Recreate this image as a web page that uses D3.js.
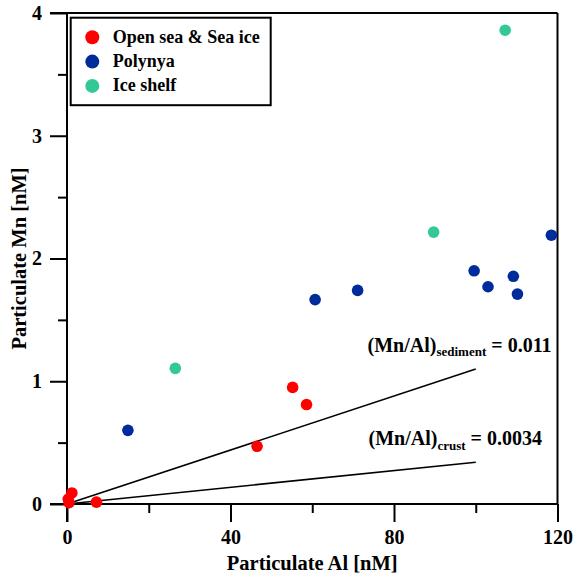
<!DOCTYPE html>
<html>
<head>
<meta charset="utf-8">
<script src="https://cdn.jsdelivr.net/npm/d3@7"></script>
<style>
  body { margin: 0; background: #fff; }
</style>
</head>
<body>
<div id="chart"></div>
<script>
// data
var groups = ["Open sea & Sea ice", "Polynya", "Ice shelf"]
var group_colors = ["#ff0000", "#002b9b", "#33c994"]

var openSeaAl = [0.3, 1.2, 0.5, 7.2, 46.5, 55.2, 58.6]
var openSeaMn = [0.04, 0.09, 0.01, 0.015, 0.47, 0.95, 0.81]

var polynyaAl = [14.9, 60.7, 71.1, 99.6, 103.0, 109.2, 110.2, 118.5]
var polynyaMn = [0.60, 1.665, 1.74, 1.90, 1.77, 1.855, 1.71, 2.19]

var iceShelfAl = [26.5, 89.7, 107.2]
var iceShelfMn = [1.105, 2.215, 3.86]

var ratioNames = ["sediment", "crust"]
var ratioValues = [0.011, 0.0034]
var ratioLabels = ["0.011", "0.0034"]
var ratioEndAl = 100

var xTicks = [0, 40, 80, 120]
var xMinor = [20, 60, 100]
var yTicks = [0, 1, 2, 3, 4]
var yMinor = [0.5, 1.5, 2.5, 3.5]

var serif = "Liberation Serif"

// dimensions and margins
var margin = { top: 13, right: 15, bottom: 75, left: 67 },
    width = 573 - margin.left - margin.right,
    height = 579 - margin.top - margin.bottom;

var svg = d3.select("#chart")
    .append("svg")
    .attr("width", 573)
    .attr("height", 579)
    .append("g")
    .attr("transform", "translate(" + margin.left + "," + margin.top + ")");

var x = d3.scaleLinear().domain([0, 120]).range([0, 490.5]);
var y = d3.scaleLinear().domain([0, 4]).range([491, 0]);

// frame
svg.append("line").attr("x1", -17).attr("x2", x(120)).attr("y1", y(4)).attr("y2", y(4))
    .attr("stroke", "black").attr("stroke-width", 2)
svg.append("line").attr("x1", x(120)).attr("x2", x(120)).attr("y1", y(4)).attr("y2", y(0))
    .attr("stroke", "black").attr("stroke-width", 2)

// axes
var xAxis = svg.append("g")
    .attr("transform", "translate(0," + y(0) + ")")
    .call(d3.axisBottom(x).tickValues(xTicks).tickFormat(d3.format("d")).tickSize(18).tickPadding(8).tickSizeOuter(0))
var xMin = svg.append("g")
    .attr("transform", "translate(0," + y(0) + ")")
    .call(d3.axisBottom(x).tickValues(xMinor).tickSize(9).tickFormat("").tickSizeOuter(0))

var yAxis = svg.append("g")
    .call(d3.axisLeft(y).tickValues(yTicks).tickFormat(d3.format("d")).tickSize(17).tickPadding(8).tickSizeOuter(0))
var yMin = svg.append("g")
    .call(d3.axisLeft(y).tickValues(yMinor).tickSize(9).tickFormat("").tickSizeOuter(0))

svg.selectAll(".domain").remove()
svg.append("line").attr("x1", -17).attr("x2", x(120)).attr("y1", y(0)).attr("y2", y(0))
    .attr("stroke", "black").attr("stroke-width", 2)
svg.append("line").attr("x1", 0).attr("x2", 0).attr("y1", y(4)).attr("y2", y(0) + 18)
    .attr("stroke", "black").attr("stroke-width", 2)

svg.selectAll(".tick line").attr("stroke", "black").attr("stroke-width", 2)
svg.selectAll(".tick text")
    .attr("font-family", serif)
    .attr("font-weight", "bold")
    .attr("font-size", "20px")
    .attr("fill", "black")

// axis titles
svg.append("text")
    .text("Particulate Al [nM]")
    .attr("x", x(60))
    .attr("y", 557)
    .attr("text-anchor", "middle")
    .attr("font-family", serif)
    .attr("font-weight", "bold")
    .attr("font-size", "20.5px")

svg.append("text")
    .text("Particulate Mn [nM]")
    .attr("transform", "translate(-41," + y(2) + ") rotate(-90)")
    .attr("text-anchor", "middle")
    .attr("font-family", serif)
    .attr("font-weight", "bold")
    .attr("font-size", "20.5px")

// ratio lines
for (var i = 0; i < ratioValues.length; i++) {
    svg.append("line")
        .attr("x1", x(0)).attr("y1", y(0))
        .attr("x2", x(ratioEndAl)).attr("y2", y(ratioEndAl * ratioValues[i]))
        .attr("stroke", "black").attr("stroke-width", 1.6)
}

var labelPos = [[300.5, 338.7], [301.5, 432.3]]
for (var i = 0; i < ratioNames.length; i++) {
    var t = svg.append("text")
        .attr("x", labelPos[i][0])
        .attr("y", labelPos[i][1])
        .attr("font-family", serif)
        .attr("font-weight", "bold")
        .attr("font-size", "20px")
    t.append("tspan").text("(Mn/Al)")
    t.append("tspan").text(ratioNames[i]).attr("font-size", "13px").attr("dy", 4.5)
    t.append("tspan").text(" = " + ratioLabels[i]).attr("dy", -4.5)
}

// points
var series = [[openSeaAl, openSeaMn], [polynyaAl, polynyaMn], [iceShelfAl, iceShelfMn]]
for (var s = 0; s < series.length; s++) {
    for (var j = 0; j < series[s][0].length; j++) {
        svg.append("circle")
            .attr("cx", x(series[s][0][j]))
            .attr("cy", y(series[s][1][j]))
            .attr("r", 5.8)
            .style("fill", group_colors[s])
    }
}

// legend
var legend = svg.append("g").attr("transform", "translate(" + (70.7 - margin.left) + "," + (17.7 - margin.top) + ")")
legend.append("rect")
    .attr("width", 200).attr("height", 87.5)
    .attr("fill", "white").attr("stroke", "black").attr("stroke-width", 2)
for (var i = 0; i < groups.length; i++) {
    legend.append("circle")
        .attr("cx", 21.6).attr("cy", 19.6 + i * 24.3)
        .attr("r", 7)
        .style("fill", group_colors[i])
    legend.append("text")
        .text(groups[i])
        .attr("x", 42).attr("y", 19.6 + i * 24.3 + 5.5)
        .attr("font-family", serif)
        .attr("font-weight", "bold")
        .attr("font-size", "18px")
}
</script>
</body>
</html>
